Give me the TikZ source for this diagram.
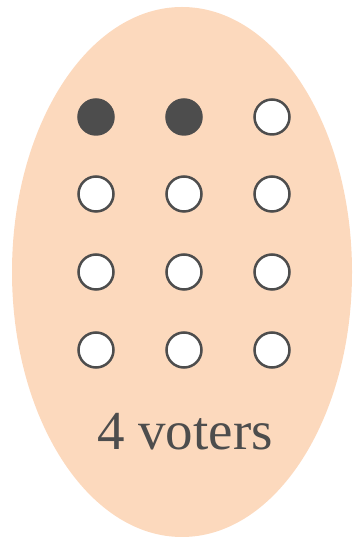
\documentclass[tikz,border=0pt]{standalone}
\usepackage{fontspec}
\setmainfont{Liberation Serif}
\definecolor{peach}{RGB}{252,217,189}
\definecolor{dk}{RGB}{77,77,77}
\tikzset{
  on/.style={circle,fill=dk,draw=dk,line width=2.5pt,minimum size=35pt,inner sep=0pt},
  off/.style={circle,fill=white,draw=dk,line width=2.5pt,minimum size=35pt,inner sep=0pt}
}
\begin{document}
\begin{tikzpicture}[x=1pt,y=1pt]
\useasboundingbox (0,0) rectangle (353,540);
\fill[peach] (182,268) ellipse [x radius=170, y radius=265];
\node[on]  (a1) at (96,423) {};
\node[on]  (a2) at (184,423) {};
\node[off] (a3) at (272,423) {};
\node[off] (b1) at (96,346) {};
\node[off] (b2) at (184,346) {};
\node[off] (b3) at (272,346) {};
\node[off] (c1) at (96,268) {};
\node[off] (c2) at (184,268) {};
\node[off] (c3) at (272,268) {};
\node[off] (d1) at (96,190) {};
\node[off] (d2) at (184,190) {};
\node[off] (d3) at (272,190) {};
\node[text=dk,font=\fontsize{55}{62}\selectfont] (lab) at (185,108) {4 voters};
\end{tikzpicture}
\end{document}
